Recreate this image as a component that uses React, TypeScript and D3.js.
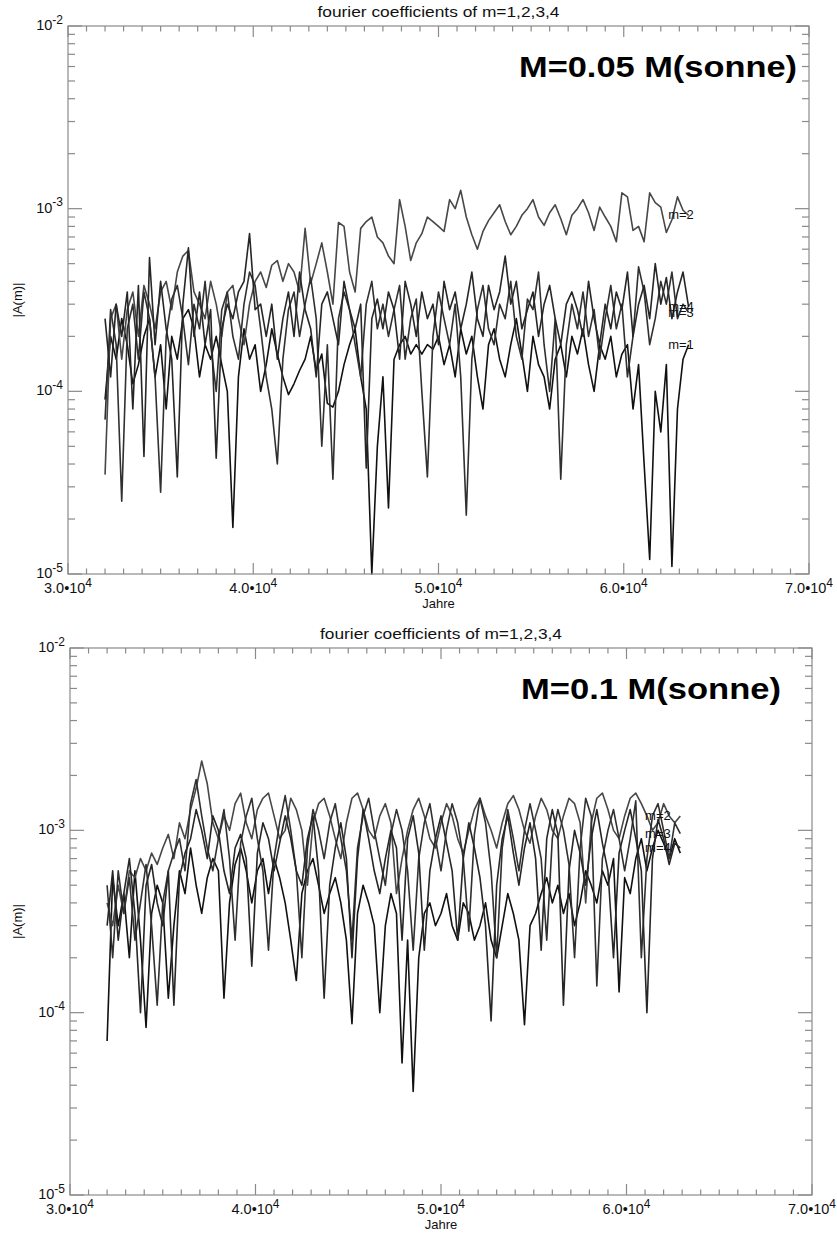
import React from 'react';
import * as d3 from 'd3';

// ---------- DATA (values in units of 1e-5) ----------
const UNIT = 1e-5;
const TOP_YEARS = d3.range(32000, 63501, 300);
const BOT_YEARS = d3.range(32000, 62901, 300);

const TOP_M1 = [
  9, 20, 15, 25, 18, 11, 14, 20, 25, 12,
  18, 8, 20, 15, 25, 28, 22, 12, 18, 15,
  20, 14, 10, 1.8, 12, 22, 15, 18, 10, 14,
  22, 16, 12, 9.6, 11, 13, 15, 20, 13, 16,
  8.6, 8.2, 10, 14, 18, 22, 12, 8, 1.0, 5,
  12, 2.3, 15, 18, 20, 16, 18, 16, 18, 17,
  20, 14, 18, 12, 22, 16, 20, 12, 8, 18,
  22, 15, 12, 18, 25, 16, 10, 20, 14, 12,
  8, 15, 18, 12, 20, 16, 22, 14, 10, 18,
  15, 20, 12, 16, 18, 8, 14, 4, 1.2, 10,
  6, 14, 1.1, 8, 15, 18,
];
const TOP_M2 = [
  3.5, 25, 30, 15, 28, 35, 20, 38, 30, 22,
  35, 40, 28, 45, 55, 59, 35, 30, 25, 40,
  30, 20, 35, 38, 25, 18, 30, 40, 45, 37,
  49, 52, 40, 50, 45, 35, 78, 39, 50, 65,
  45, 30, 84, 80, 45, 35, 78, 85, 90, 70,
  65, 55, 50, 112, 80, 52, 65, 73, 90, 85,
  80, 75, 112, 100, 126, 90, 72, 60, 75, 86,
  95, 105, 85, 72, 80, 92, 100, 112, 90, 81,
  95, 105, 88, 72, 92, 100, 112, 95, 76, 102,
  90, 80, 66, 122, 116, 76, 80, 66, 122, 108,
  102, 74, 87, 116, 98, 92,
];
const TOP_M3 = [
  7, 28, 18, 2.5, 22, 30, 15, 35, 25, 12,
  2.8, 20, 32, 38, 25, 14, 30, 22, 40, 18,
  10, 28, 35, 20, 15, 30, 45, 38, 22, 12,
  8, 4, 15, 28, 35, 20, 30, 42, 25, 5,
  18, 3.3, 25, 35, 28, 18, 12, 30, 40, 22,
  30, 20, 28, 38, 15, 25, 32, 10, 3.4, 20,
  35, 25, 18, 30, 12, 2.1, 15, 28, 38, 22,
  18, 30, 25, 40, 20, 15, 32, 28, 45, 18,
  10, 25, 3.3, 18, 30, 22, 35, 20, 28, 15,
  25, 38, 22, 30, 12, 20, 48, 35, 18, 25,
  40, 30, 45, 25, 30, 27,
];
const TOP_M4 = [
  25, 12, 30, 20, 35, 8, 38, 4.4, 54, 18,
  40, 22, 15, 3.4, 30, 61, 20, 35, 18, 28,
  4.3, 22, 30, 25, 35, 40, 73, 28, 30, 20,
  30, 15, 25, 35, 20, 45, 28, 22, 12, 30,
  35, 25, 18, 40, 28, 22, 30, 3.8, 25, 32,
  22, 35, 28, 15, 40, 30, 20, 35, 25, 30,
  18, 40, 28, 35, 22, 30, 45, 25, 20, 38,
  28, 35, 55, 30, 40, 22, 28, 35, 20, 30,
  38, 25, 18, 30, 35, 28, 20, 40, 25, 18,
  30, 22, 35, 28, 45, 20, 30, 38, 25, 50,
  30, 42, 25, 35, 45, 29,
];

const BOT_M1 = [
  7, 55, 30, 45, 20, 60, 25, 8.3, 35, 50,
  40, 12, 30, 60, 45, 80, 50, 35, 55, 70,
  60, 12, 40, 65, 80, 60, 40, 60, 70, 45,
  70, 55, 40, 25, 15, 45, 60, 70, 50, 35,
  45, 55, 40, 25, 8.7, 35, 50, 40, 30, 10,
  30, 45, 35, 5.3, 25, 3.7, 20, 35, 40, 30,
  35, 45, 30, 25, 40, 35, 25, 30, 40, 25,
  20, 30, 45, 35, 25, 8.6, 30, 35, 45, 55,
  40, 50, 35, 45, 30, 40, 60, 50, 40, 60,
  50, 70, 13, 55, 45, 70, 90, 60, 80, 100,
  85, 70, 90, 75,
];
const BOT_M2 = [
  40, 30, 50, 35, 60, 55, 70, 60, 75, 65,
  80, 95, 70, 110, 90, 130, 170, 240, 180, 110,
  90, 120, 100, 140, 160, 110, 90, 130, 150, 160,
  120, 90, 100, 150, 130, 100, 50, 110, 140, 150,
  120, 90, 70, 110, 150, 160, 130, 100, 90, 120,
  140, 110, 45, 70, 100, 130, 150, 120, 90, 80,
  110, 140, 120, 90, 75, 100, 130, 150, 120, 100,
  80, 110, 140, 155, 130, 100, 85, 120, 150, 130,
  100, 90, 120, 150, 140, 110, 40, 110, 150, 160,
  130, 100, 90, 120, 150, 160, 140, 120, 100, 110,
  140, 120, 110, 120,
];
const BOT_M3 = [
  50, 20, 60, 35, 55, 25, 40, 65, 30, 11,
  40, 60, 75, 90, 60, 140, 190, 120, 80, 60,
  90, 130, 70, 25, 85, 120, 150, 90, 60, 22,
  70, 110, 155, 100, 60, 20, 80, 130, 100, 70,
  110, 140, 90, 60, 25, 80, 120, 150, 100, 70,
  50, 95, 130, 100, 60, 22, 70, 110, 140, 90,
  60, 100, 140, 110, 70, 28, 95, 150, 110, 60,
  20, 80, 130, 90, 60, 100, 140, 100, 70, 25,
  90, 130, 100, 65, 20, 80, 150, 120, 14, 70,
  100, 130, 90, 60, 90, 145, 20, 70, 120, 140,
  100, 70, 110, 96,
];
const BOT_M4 = [
  30, 60, 25, 45, 70, 35, 10, 50, 65, 40,
  30, 60, 11, 55, 75, 90, 130, 100, 70, 120,
  100, 60, 45, 80, 95, 70, 18, 75, 110, 90,
  60, 85, 120, 90, 60, 50, 90, 120, 60, 12,
  50, 80, 110, 70, 20, 70, 130, 90, 60, 45,
  70, 100, 80, 25, 90, 120, 75, 22, 60, 90,
  120, 85, 60, 25, 70, 110, 80, 55, 30, 9,
  50, 90, 120, 75, 50, 80, 110, 70, 22, 90,
  130, 95, 11, 60, 100, 75, 50, 90, 130, 85,
  60, 20, 75, 100, 130, 90, 60, 10, 70, 115,
  90, 65, 85, 80,
];

const SERIES_NAMES = ['m=1', 'm=2', 'm=3', 'm=4'];
const SERIES_COLORS = ['#111111', '#474747', '#303030', '#262626'];

const X_DOMAIN = [30000, 70000];
const Y_DOMAIN = [1e-5, 1e-2];
const X_TICKS = [30000, 40000, 50000, 60000, 70000];
const X_TICK_MANTISSA = ['3.0', '4.0', '5.0', '6.0', '7.0'];
const X_TICK_EXP = '4';
const Y_TICKS = [1e-2, 1e-3, 1e-4, 1e-5];
const Y_TICK_EXP = ['-2', '-3', '-4', '-5'];

const TITLE = 'fourier coefficients of m=1,2,3,4';
const X_TITLE = 'Jahre';
const Y_TITLE = '|A(m)|';
const TOP_MASS = 'M=0.05 M(sonne)';
const BOT_MASS = 'M=0.1 M(sonne)';
const TOP_LABEL_YEAR = 62400;
const BOT_LABEL_YEAR = 61000;

const FONT = '"Liberation Sans", Arial, Helvetica, sans-serif';
const AXIS_COLOR = '#8a8a8a';

type Layout = { left: number; right: number; top: number; bottom: number };

function Panel(props: {
  layout: Layout;
  years: number[];
  series: number[][];
  labelIdx: number[];
  labelYear: number;
  mass: string;
  massWidth: number;
}) {
  const { layout, years, series, labelIdx, labelYear, mass, massWidth } = props;
  const x = d3.scaleLinear().domain(X_DOMAIN).range([layout.left, layout.right]);
  const y = d3.scaleLog().domain(Y_DOMAIN).range([layout.bottom, layout.top]);
  const line = d3
    .line<number>()
    .x((_, i) => x(years[i]))
    .y((v) => y(v * UNIT));

  const xMinor = d3.range(X_DOMAIN[0], X_DOMAIN[1] + 1, 1000).filter((v) => v % 10000 !== 0);
  const yMinor: number[] = [];
  [1e-5, 1e-4, 1e-3].forEach((d) => {
    for (let k = 2; k <= 9; k++) yMinor.push(d * k);
  });

  const cx = (layout.left + layout.right) / 2;
  const cy = (layout.top + layout.bottom) / 2;
  const tickEls: React.ReactNode[] = [];
  X_TICKS.forEach((t, i) => {
    const px = x(t);
    tickEls.push(<line key={'xb' + i} x1={px} x2={px} y1={layout.bottom} y2={layout.bottom - 11} />);
    tickEls.push(<line key={'xt' + i} x1={px} x2={px} y1={layout.top} y2={layout.top + 11} />);
  });
  xMinor.forEach((t, i) => {
    const px = x(t);
    tickEls.push(<line key={'xbm' + i} x1={px} x2={px} y1={layout.bottom} y2={layout.bottom - 5.5} />);
    tickEls.push(<line key={'xtm' + i} x1={px} x2={px} y1={layout.top} y2={layout.top + 5.5} />);
  });
  Y_TICKS.forEach((t, i) => {
    const py = y(t);
    tickEls.push(<line key={'yl' + i} x1={layout.left} x2={layout.left + 14} y1={py} y2={py} />);
    tickEls.push(<line key={'yr' + i} x1={layout.right} x2={layout.right - 14} y1={py} y2={py} />);
  });
  yMinor.forEach((t, i) => {
    const py = y(t);
    tickEls.push(<line key={'ylm' + i} x1={layout.left} x2={layout.left + 7} y1={py} y2={py} />);
    tickEls.push(<line key={'yrm' + i} x1={layout.right} x2={layout.right - 7} y1={py} y2={py} />);
  });

  return (
    <g fontFamily={FONT}>
      <text x={cx} y={layout.top - 9} fontSize={14} textAnchor="middle" fill="#111" textLength={242} lengthAdjust="spacingAndGlyphs">
        {TITLE}
      </text>
      {series.map((s, si) => (
        <path key={si} d={line(s) || ''} fill="none" stroke={SERIES_COLORS[si]} strokeWidth={1.6} strokeLinejoin="round" />
      ))}
      {labelIdx.map((si) => {
        const s = series[si];
        return (
          <text key={'lab' + si} x={x(labelYear)} y={y(s[s.length - 1] * UNIT) + 4} fontSize={13} fill="#111">
            {SERIES_NAMES[si]}
          </text>
        );
      })}
      <g stroke={AXIS_COLOR} strokeWidth={1.2}>
        <rect x={layout.left} y={layout.top} width={layout.right - layout.left} height={layout.bottom - layout.top} fill="none" />
        {tickEls}
      </g>
      {X_TICKS.map((t, i) => (
        <text key={'xl' + i} x={x(t)} y={layout.bottom + 19} fontSize={14.5} textAnchor="middle" fill="#111">
          <tspan>{X_TICK_MANTISSA[i] + '\u202210'}</tspan>
          <tspan dy={-6.5} fontSize={12}>{X_TICK_EXP}</tspan>
        </text>
      ))}
      {Y_TICKS.map((t, i) => (
        <text key={'yl' + i} x={layout.left - 5} y={y(t) + 4} fontSize={14.5} textAnchor="end" fill="#111">
          <tspan>10</tspan>
          <tspan dy={-6.5} fontSize={12}>{Y_TICK_EXP[i]}</tspan>
        </text>
      ))}
      <text x={cx} y={layout.bottom + 34} fontSize={13} textAnchor="middle" fill="#111">
        {X_TITLE}
      </text>
      <text transform={`translate(22,${cy}) rotate(-90)`} fontSize={13} textAnchor="middle" fill="#111">
        {Y_TITLE}
      </text>
      <text x={layout.left + 451} y={layout.top + 51} fontSize={29} fontWeight="bold" fill="#000" textLength={massWidth} lengthAdjust="spacingAndGlyphs">
        {mass}
      </text>
    </g>
  );
}

export default function App() {
  const top: Layout = { left: 68, right: 809, top: 26, bottom: 574 };
  const bot: Layout = { left: 70, right: 812, top: 648, bottom: 1195 };
  return (
    <div style={{ position: 'absolute', left: 0, top: 0 }}>
      <svg width={837} height={1233} style={{ display: 'block', background: '#fff' }}>
        <Panel
          layout={top}
          years={TOP_YEARS}
          series={[TOP_M1, TOP_M2, TOP_M3, TOP_M4]}
          labelIdx={[0, 1, 2, 3]}
          labelYear={TOP_LABEL_YEAR}
          mass={TOP_MASS}
          massWidth={278}
        />
        <Panel
          layout={bot}
          years={BOT_YEARS}
          series={[BOT_M1, BOT_M2, BOT_M3, BOT_M4]}
          labelIdx={[1, 2, 3]}
          labelYear={BOT_LABEL_YEAR}
          mass={BOT_MASS}
          massWidth={260}
        />
      </svg>
    </div>
  );
}
